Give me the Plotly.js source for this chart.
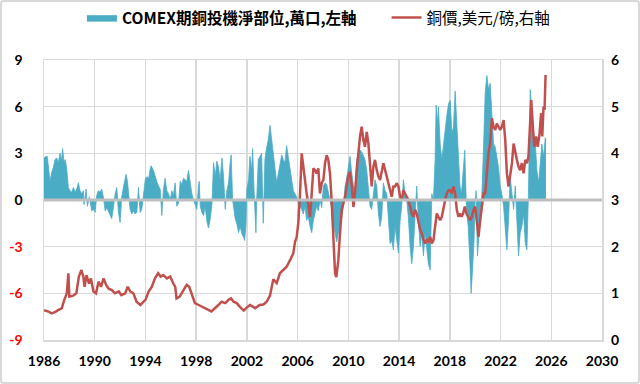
<!DOCTYPE html>
<html>
<head>
<meta charset="utf-8">
<script src="https://cdn.plot.ly/plotly-3.0.1.min.js"></script>
<style>
  html, body { margin: 0; padding: 0; background: #ffffff; }
  #wrap { position: relative; width: 640px; height: 384px; }
  #chart { width: 640px; height: 384px; }
  #frame { position: absolute; left: 0; top: 0; width: 640px; height: 384px; box-sizing: border-box;
           border: 2px solid #d9d9d9; border-radius: 4px; pointer-events: none; }
</style>
</head>
<body>
<div id="wrap"><div id="chart"></div><div id="frame"></div></div>
<script>
// ---- Data ----
const seriesNames = ['<b>COMEX期銅投機淨部位,萬口,左軸</b>', '銅價,美元/磅,右軸'];

const posYears = [
1986.00,1986.13,1986.26,1986.39,1986.47,1986.60,1986.74,1986.87,1987.00,1987.13,1987.26,1987.37,1987.47,1987.58,1987.68,1987.79,1987.92,
1988.05,1988.18,1988.32,1988.45,1988.58,1988.71,1988.84,1988.97,1989.10,1989.16,1989.32,1989.42,1989.58,1989.76,1989.89,
1990.03,1990.16,1990.29,1990.42,1990.55,1990.68,1990.82,1990.95,1991.08,1991.21,1991.34,1991.47,1991.61,1991.74,1991.87,
1992.00,1992.13,1992.26,1992.47,1992.58,1992.68,1992.79,1992.92,1993.05,1993.18,1993.32,1993.45,1993.58,1993.71,1993.84,
1994.00,1994.13,1994.26,1994.37,1994.45,1994.63,1994.76,1994.89,1995.03,1995.16,1995.29,1995.42,1995.55,1995.68,1995.82,1995.95,
1996.08,1996.21,1996.34,1996.47,1996.61,1996.74,1996.87,1997.00,1997.13,1997.26,1997.39,1997.53,1997.66,1997.79,1997.92,
1998.05,1998.18,1998.24,1998.32,1998.45,1998.58,1998.71,1998.84,1998.97,1999.11,1999.24,1999.37,1999.50,1999.63,1999.76,1999.89,
2000.03,2000.16,2000.29,2000.42,2000.55,2000.68,2000.76,2000.87,2000.95,2001.08,2001.21,2001.34,2001.47,2001.61,2001.74,2001.82,2001.92,
2002.00,2002.13,2002.24,2002.37,2002.45,2002.55,2002.63,2002.71,2002.77,2002.90,2003.03,2003.16,2003.29,2003.42,2003.56,2003.69,2003.82,2003.95,
2004.08,2004.21,2004.35,2004.48,2004.61,2004.74,2004.87,2005.00,2005.13,2005.27,2005.40,2005.53,2005.66,2005.79,2005.92,
2006.05,2006.19,2006.32,2006.45,2006.58,2006.71,2006.84,2006.98,2007.11,2007.24,2007.37,2007.50,2007.63,2007.77,2007.90,
2008.03,2008.16,2008.29,2008.42,2008.56,2008.69,2008.82,2008.95,2009.08,2009.21,2009.34,2009.48,2009.61,2009.74,2009.87,
2010.00,2010.13,2010.27,2010.40,2010.52,2010.66,2010.79,2010.92,2011.05,2011.18,2011.31,2011.45,2011.58,2011.71,2011.84,2011.97,
2012.10,2012.24,2012.37,2012.50,2012.63,2012.76,2012.90,2013.03,2013.16,2013.29,2013.42,2013.55,2013.68,2013.82,2013.95,
2014.08,2014.21,2014.34,2014.47,2014.60,2014.73,2014.87,2015.00,2015.13,2015.26,2015.39,2015.52,2015.66,2015.79,2015.92,
2016.05,2016.18,2016.31,2016.45,2016.58,2016.71,2016.84,2016.92,2017.03,2017.10,2017.24,2017.37,2017.50,2017.63,2017.76,2017.90,
2018.03,2018.16,2018.29,2018.42,2018.55,2018.68,2018.80,2018.92,2019.05,2019.18,2019.31,2019.45,2019.60,2019.68,2019.80,2019.90,
2020.00,2020.08,2020.18,2020.30,2020.40,2020.53,2020.66,2020.79,2020.92,2021.05,2021.18,2021.32,2021.45,2021.58,2021.71,2021.84,2021.97,
2022.10,2022.24,2022.37,2022.50,2022.63,2022.76,2022.90,2023.03,2023.16,2023.29,2023.42,2023.55,2023.68,2023.82,2023.95,
2024.08,2024.20,2024.34,2024.47,2024.60,2024.74,2024.87,2025.00,2025.13,2025.26,2025.39,2025.53,2025.58
];
const posValues = [
2.7,2.8,2.8,1.5,1.2,1.75,2.1,2.6,2.7,2.4,3.0,2.5,3.3,2.4,2.6,2.0,0.8,
0.6,0.5,0.8,0.5,0.7,1.1,0.6,0.4,0.6,-0.3,0.7,-0.4,0.2,-0.7,-0.6,
-0.8,0.3,0.6,0.5,0.7,0.2,-0.7,-0.5,-0.7,-1.0,-1.2,-0.5,0.4,0.8,-0.8,
-1.45,0.2,0.8,1.65,1.2,0.2,-0.6,-0.9,-0.7,-0.9,-0.8,0.8,-0.8,-0.6,0.3,
1.4,1.5,1.4,2.0,2.2,1.9,1.5,1.2,0.9,0.7,-1.0,0.7,1.4,0.6,0.4,0.0,
0.6,0.3,1.1,-0.4,-0.2,1.2,1.0,1.4,1.3,1.2,1.9,1.1,0.4,0.0,-0.3,
-0.6,0.9,1.2,-0.4,-0.8,-1.0,-0.4,-1.35,-1.8,-1.2,-0.3,2.4,1.5,2.5,2.1,1.3,
2.7,1.5,-0.6,0.6,1.1,2.4,2.9,0.0,-0.4,-1.2,-1.55,-2.1,-1.7,-2.2,-2.4,-2.6,-1.6,
0.7,1.3,2.8,1.9,3.3,0.9,-1.1,-2.1,0.0,2.6,2.8,3.0,-1.5,2.6,3.4,3.9,4.8,3.9,
3.0,1.9,1.1,1.7,2.4,2.9,2.6,2.4,3.5,2.8,1.9,1.3,0.6,0.4,0.2,
-0.2,-0.4,-0.6,-0.9,-0.4,-1.3,-1.1,-1.7,-2.1,-1.3,-0.9,-0.4,-0.7,0.0,-0.5,
0.9,1.1,1.0,0.5,0.0,-0.6,-1.5,-2.1,-2.7,-2.1,-1.7,-1.1,-0.4,0.9,1.4,
2.1,2.8,1.7,0.9,0.6,2.6,3.0,3.2,3.1,2.8,2.6,1.9,0.6,-0.4,-0.6,0.6,
1.3,0.9,-0.9,-1.7,-1.1,1.1,0.6,0.4,-1.3,-2.8,-2.6,-3.2,-1.7,-2.6,-3.4,
-1.3,-0.4,1.3,0.4,0.0,-1.1,-3.0,-4.1,-3.0,-1.3,0.9,-1.3,-3.0,-2.1,-3.6,
-2.1,-3.0,-4.1,-4.5,0.4,0.0,2.6,6.1,4.9,6.0,3.6,2.6,3.6,4.7,5.4,6.2,
6.4,4.3,4.7,7.0,4.7,2.6,0.9,0.4,1.9,3.2,-0.6,-1.7,-4.3,-6.0,-4.3,-2.8,
0.0,0.6,-3.6,-2.4,-0.9,0.4,3.4,6.9,8.0,7.1,7.5,5.1,3.6,3.4,2.6,2.1,0.9,
0.4,-0.4,-2.1,-3.2,-1.3,1.5,0.4,-0.6,0.9,-1.5,-3.6,-2.1,-1.7,-0.9,-2.8,
-3.2,0.4,7.1,5.6,4.3,3.6,1.9,1.1,2.6,3.6,2.8,4.0,3.8
];

const priceYears = [
1986.00,1986.35,1986.60,1986.90,1987.10,1987.40,1987.60,1987.80,1987.92,1988.00,1988.30,1988.55,1988.75,1988.95,
1989.10,1989.20,1989.35,1989.55,1989.70,1989.90,1990.10,1990.30,1990.50,1990.70,1990.90,1991.10,1991.35,1991.60,1991.90,
1992.10,1992.40,1992.60,1992.80,1993.05,1993.30,1993.60,1993.85,1994.00,1994.25,1994.50,1994.75,1995.00,1995.20,1995.40,
1995.70,1995.95,1996.20,1996.35,1996.45,1996.70,1997.00,1997.25,1997.45,1997.65,1997.90,1998.20,1998.45,1998.70,
1999.00,1999.20,1999.50,1999.75,2000.00,2000.30,2000.55,2000.75,2000.95,2001.20,2001.45,2001.75,2002.00,2002.25,
2002.50,2002.65,2003.00,2003.30,2003.56,2003.82,2004.08,2004.20,2004.35,2004.60,2004.87,2005.13,2005.40,2005.66,
2005.79,2005.92,2006.05,2006.19,2006.32,2006.45,2006.58,2006.71,2006.84,2006.98,2007.11,2007.24,2007.37,2007.50,
2007.63,2007.76,2007.90,2008.03,2008.16,2008.29,2008.42,2008.55,2008.68,2008.82,2008.95,2009.05,2009.21,2009.34,
2009.48,2009.61,2009.74,2009.87,2009.98,2010.13,2010.27,2010.40,2010.52,2010.66,2010.79,2010.92,2011.05,2011.18,
2011.31,2011.45,2011.58,2011.71,2011.84,2011.97,2012.10,2012.24,2012.37,2012.50,2012.63,2012.76,2012.90,2013.03,
2013.16,2013.29,2013.42,2013.55,2013.68,2013.82,2013.95,2014.08,2014.21,2014.34,2014.47,2014.60,2014.73,2014.87,
2015.00,2015.13,2015.26,2015.39,2015.52,2015.66,2015.79,2015.92,2016.05,2016.18,2016.31,2016.45,2016.58,2016.71,
2016.84,2016.97,2017.10,2017.24,2017.37,2017.50,2017.63,2017.76,2017.90,2018.03,2018.16,2018.29,2018.42,2018.55,
2018.68,2018.80,2018.92,2019.05,2019.18,2019.31,2019.45,2019.60,2019.74,2019.87,2020.00,2020.13,2020.26,2020.40,
2020.53,2020.66,2020.79,2020.92,2021.05,2021.18,2021.32,2021.45,2021.58,2021.71,2021.84,2021.97,2022.10,2022.24,
2022.37,2022.50,2022.63,2022.76,2022.90,2023.03,2023.16,2023.29,2023.42,2023.55,2023.68,2023.82,2023.95,2024.08,
2024.20,2024.34,2024.42,2024.55,2024.66,2024.80,2024.93,2025.08,2025.20,2025.29,2025.39,2025.47,2025.55
];
const priceValues = [
0.64,0.61,0.57,0.60,0.64,0.68,0.86,1.00,1.43,0.93,0.95,1.00,1.36,1.50,
1.36,1.14,1.39,1.21,1.32,1.04,1.00,1.25,1.14,1.32,1.18,1.10,1.07,1.00,1.04,
0.96,1.00,1.14,1.04,1.00,0.82,0.75,0.82,0.86,1.04,1.14,1.32,1.43,1.36,1.39,
1.32,1.36,1.21,1.14,0.89,0.93,1.07,1.18,1.14,1.00,0.79,0.75,0.71,0.68,
0.64,0.61,0.68,0.75,0.82,0.79,0.86,0.89,0.82,0.79,0.71,0.63,0.70,0.75,
0.71,0.68,0.75,0.76,0.82,0.95,1.30,1.27,1.22,1.43,1.50,1.57,1.71,1.86,
2.10,2.20,2.50,3.14,4.00,3.64,3.43,3.14,2.86,2.64,3.14,3.68,3.64,3.57,
3.68,3.14,3.36,3.43,3.79,3.96,3.86,3.57,3.00,2.14,1.43,1.35,1.71,2.29,
2.79,2.93,3.07,3.29,3.50,3.60,3.30,2.85,3.14,3.64,4.07,4.36,4.57,4.29,
4.14,4.46,4.21,3.64,3.29,3.71,3.86,3.64,3.50,3.43,3.64,3.79,3.64,3.50,
3.36,3.21,3.07,3.29,3.29,3.36,3.29,3.07,3.00,3.21,3.14,3.07,3.00,2.86,
2.71,2.64,2.79,2.71,2.50,2.36,2.29,2.14,2.07,2.14,2.11,2.21,2.07,2.14,
2.43,2.71,2.64,2.57,2.64,2.86,3.00,3.14,3.21,3.21,3.14,3.29,3.14,2.79,
2.64,2.71,2.64,2.71,2.86,2.71,2.64,2.57,2.64,2.79,2.86,2.57,2.21,2.57,
2.93,3.14,3.14,3.57,4.00,4.21,4.75,4.57,4.50,4.64,4.57,4.50,4.57,4.71,
4.29,3.57,3.29,3.50,3.79,4.21,4.00,3.86,3.71,3.64,3.79,3.57,3.86,3.79,
3.93,4.71,5.14,4.57,4.14,4.36,4.14,4.43,4.86,4.36,5.00,4.93,5.68
];

const xTickVals = [1986,1990,1994,1998,2002,2006,2010,2014,2018,2022,2026,2030];
const xTickText = ['1986','1990','1994','1998','2002','2006','2010','2014','2018','2022','2026','2030'];
const yLeftTickVals = [-9,-6,-3,0,3,6,9];
const yLeftTickText = ['<span style="color:#ff0000">-9</span>','<span style="color:#ff0000">-6</span>','<span style="color:#ff0000">-3</span>','0','3','6','9'];
const yRightTickVals = [0,1,2,3,4,5,6];
const yRightTickText = ['0','1','2','3','4','5','6'];

// ---- Styles ----
const barColor = '#4BACC6';
const lineColor = '#C0504D';
const gridColor = '#D9D9D9';
const tickFont = {family: 'Lato, "Noto Sans", sans-serif', size: 14, color: '#000000', weight: 'bold'};
const legendFont = {family: '"Noto Sans CJK TC", "Noto Sans", sans-serif', size: 15.5, color: '#000000'};

const traces = [
  {
    type: 'scatter', mode: 'lines', name: seriesNames[0], legend: 'legend',
    x: posYears, y: posValues, yaxis: 'y',
    fill: 'tozeroy', fillcolor: barColor,
    line: {color: barColor, width: 0.8, shape: 'linear'},
    hoverinfo: 'skip'
  },
  {
    type: 'scatter', mode: 'lines', name: seriesNames[1], legend: 'legend2',
    x: priceYears, y: priceValues, yaxis: 'y2',
    line: {color: lineColor, width: 2.5},
    hoverinfo: 'skip'
  }
];

const layout = {
  width: 640, height: 384,
  margin: {l: 44, r: 38, t: 60, b: 44, pad: 0},
  paper_bgcolor: '#ffffff', plot_bgcolor: '#ffffff',
  showlegend: true,
  legend: {
    orientation: 'h', xref: 'container', yref: 'container',
    x: 0.128, xanchor: 'left', y: 0.953, yanchor: 'middle',
    font: legendFont, bgcolor: 'rgba(0,0,0,0)', itemwidth: 30
  },
  legend2: {
    orientation: 'h', xref: 'container', yref: 'container',
    x: 0.604, xanchor: 'left', y: 0.953, yanchor: 'middle',
    font: legendFont, bgcolor: 'rgba(0,0,0,0)', itemwidth: 30
  },
  xaxis: {
    range: [1986, 2030], tickmode: 'array', tickvals: xTickVals, ticktext: xTickText,
    showgrid: true, gridcolor: gridColor, gridwidth: 1.5,
    zeroline: false, showline: true, linecolor: gridColor, linewidth: 1.5, mirror: true,
    ticks: '', ticklabelstandoff: 8, tickfont: tickFont, fixedrange: true
  },
  yaxis: {
    range: [-9, 9], tickmode: 'array', tickvals: yLeftTickVals, ticktext: yLeftTickText,
    showgrid: true, gridcolor: gridColor, gridwidth: 1.5,
    zeroline: false, showline: true, linecolor: gridColor, linewidth: 1.5, mirror: true,
    ticks: '', ticklabelstandoff: 17, tickfont: tickFont, fixedrange: true
  },
  yaxis2: {
    range: [0, 6], overlaying: 'y', side: 'right', tickmode: 'array',
    tickvals: yRightTickVals, ticktext: yRightTickText,
    showgrid: false, zeroline: false, showline: false,
    ticks: '', ticklabelstandoff: 8, tickfont: tickFont, fixedrange: true
  },
  shapes: [
    {type: 'line', xref: 'paper', x0: 0, x1: 1, yref: 'y', y0: 0, y1: 0,
     line: {color: '#BFBFBF', width: 3}, layer: 'above'}
  ]
};

Plotly.newPlot('chart', traces, layout, {displayModeBar: false, staticPlot: true});
</script>
</body>
</html>
